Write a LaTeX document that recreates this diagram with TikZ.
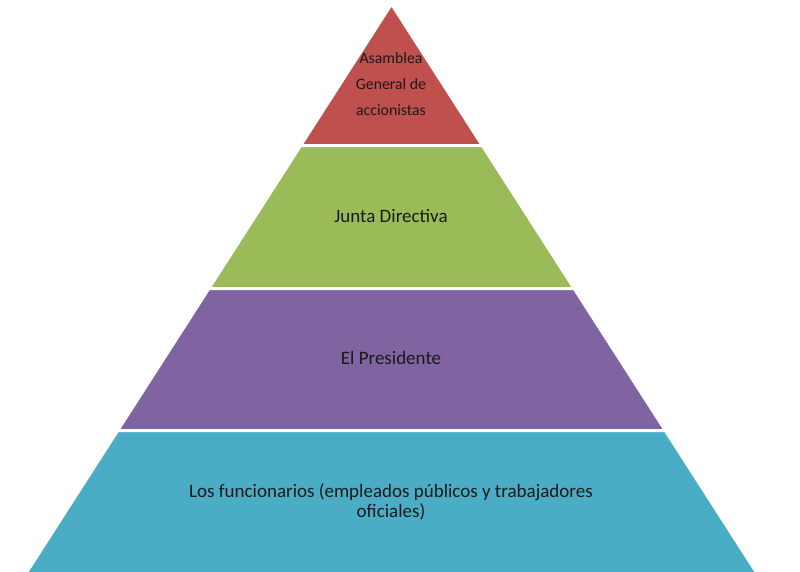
\documentclass[tikz,border=0pt]{standalone}
\usepackage{fontspec}
\setmainfont{Carlito}
\definecolor{layred}{HTML}{C0504D}
\definecolor{laygreen}{HTML}{9BBB59}
\definecolor{laypurple}{HTML}{8064A2}
\definecolor{layblue}{HTML}{4BACC6}
\definecolor{txt}{HTML}{1A1A1A}
\begin{document}
\begin{tikzpicture}[x=1pt,y=-1pt,
  layer/.style={draw=white,line width=3pt,line join=miter},
  lbl/.style={text=txt,align=center,inner sep=0pt,font=\fontsize{19}{20.5}\selectfont},
  toplbl/.style={text=txt,align=center,inner sep=0pt,font=\fontsize{15.8}{26}\selectfont}]
\useasboundingbox (0,0) rectangle (800,571);
% apex (391.5,4), half-width slope 0.642
\def\sl{0.642}
\coordinate (apex) at (391.5,4);
\fill[layred,layer] (apex) -- (391.5+\sl*141.5,145.5) -- (391.5-\sl*141.5,145.5) -- cycle;
\fill[laygreen,layer] (391.5-\sl*141.5,145.5) -- (391.5+\sl*141.5,145.5) -- (391.5+\sl*284.5,288.5) -- (391.5-\sl*284.5,288.5) -- cycle;
\fill[laypurple,layer] (391.5-\sl*284.5,288.5) -- (391.5+\sl*284.5,288.5) -- (391.5+\sl*426.5,430.5) -- (391.5-\sl*426.5,430.5) -- cycle;
\fill[layblue,layer] (391.5-\sl*426.5,430.5) -- (391.5+\sl*426.5,430.5) -- (391.5+\sl*575,579) -- (391.5-\sl*575,579) -- cycle;
\node[toplbl] (asamblea) at (391,84) {Asamblea\\General de\\accionistas};
\node[lbl] (junta) at (391,216) {Junta Directiva};
\node[lbl] (presidente) at (391,358) {El Presidente};
\node[lbl] (funcionarios) at (391,502) {Los funcionarios (empleados públicos y trabajadores\\oficiales)};
\end{tikzpicture}
\end{document}
